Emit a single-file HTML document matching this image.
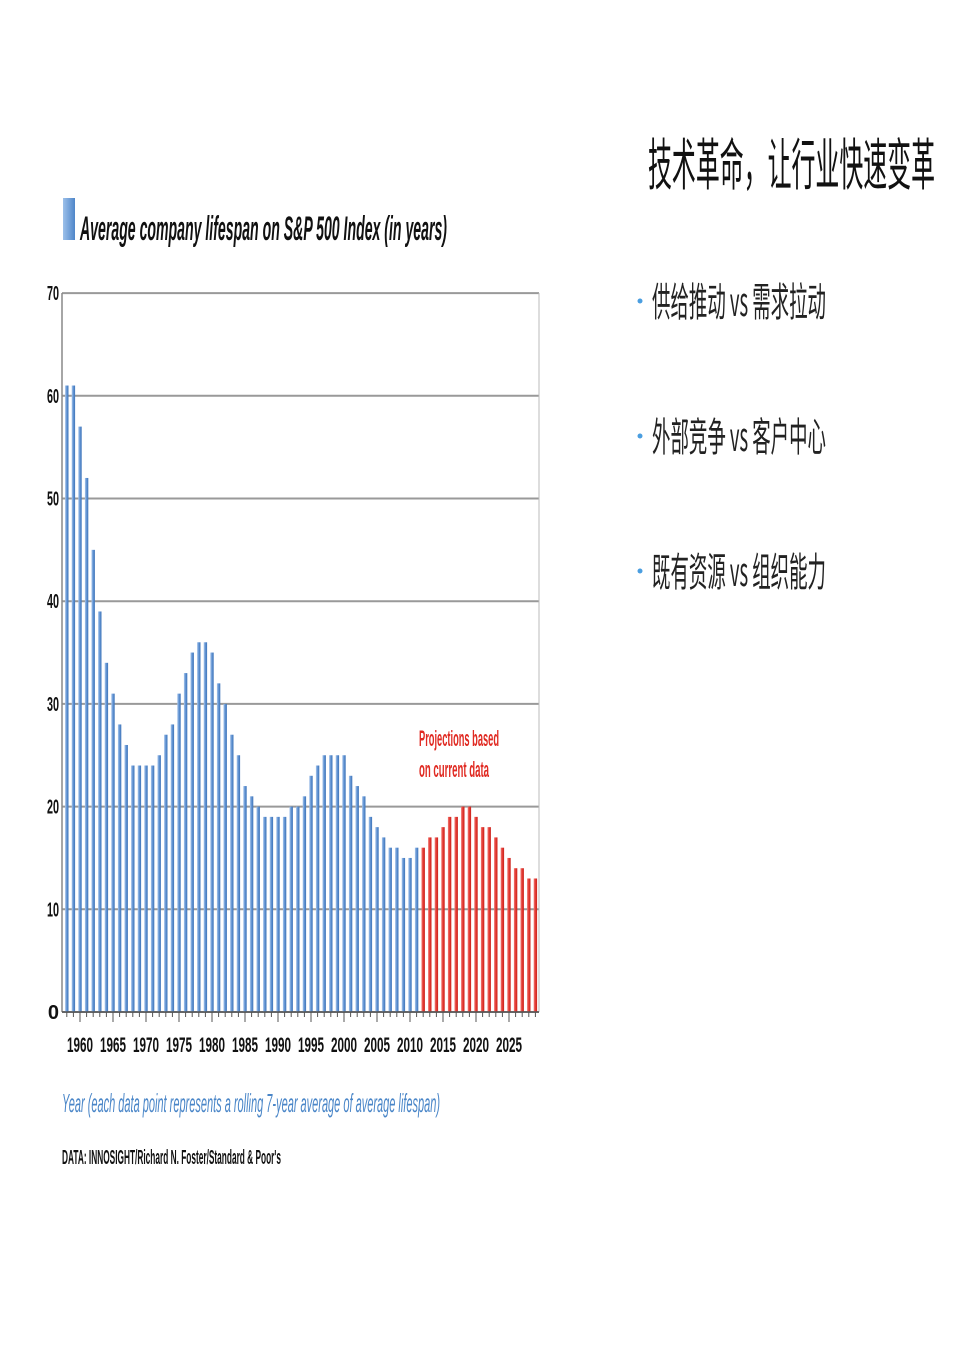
<!DOCTYPE html>
<html><head><meta charset="utf-8">
<style>
body{margin:0;background:#fff;}
svg{display:block;}
</style></head>
<body>
<svg id="s" width="960" height="1357" xmlns="http://www.w3.org/2000/svg" font-family="Liberation Sans, sans-serif">
<rect width="960" height="1357" fill="#fff"/>
<defs>
<linearGradient id="ic" x1="0" x2="1"><stop offset="0" stop-color="#9cc0ea"/><stop offset="1" stop-color="#4f86c9"/></linearGradient>
<linearGradient id="bb" x1="0" x2="1"><stop offset="0" stop-color="#a9c6ec"/><stop offset="0.5" stop-color="#5f92d2"/><stop offset="1" stop-color="#3f74b8"/></linearGradient>
<linearGradient id="rb" x1="0" x2="1"><stop offset="0" stop-color="#f07a75"/><stop offset="0.5" stop-color="#e43a33"/><stop offset="1" stop-color="#c9211b"/></linearGradient>
</defs>
<rect x="63" y="198" width="12" height="42" fill="url(#ic)"/>
<text x="80" y="240" font-size="34" font-style="italic" font-weight="bold" textLength="367" lengthAdjust="spacingAndGlyphs" fill="#111">Average company lifespan on S&amp;P 500 Index (in years)</text>
<g id="grid" stroke="#999" stroke-width="2"></g>
<line x1="62" y1="293" x2="62" y2="1012" stroke="#888" stroke-width="1.5"/>
<line x1="539" y1="293" x2="539" y2="1012" stroke="#bbb" stroke-width="1"/>
<g id="bars"></g>
<g id="yl" font-size="20" font-weight="bold" fill="#111"></g>
<g id="xl" font-size="21" font-weight="bold" fill="#111"></g>
<text x="419" y="746" font-size="22" font-weight="bold" fill="#e02a22" textLength="80" lengthAdjust="spacingAndGlyphs">Projections based</text>
<text x="419" y="777" font-size="22" font-weight="bold" fill="#e02a22" textLength="70" lengthAdjust="spacingAndGlyphs">on current data</text>
<text x="62" y="1112" font-size="26" font-style="italic" fill="#4a86c8" textLength="378" lengthAdjust="spacingAndGlyphs">Year (each data point represents a rolling 7-year average of average lifespan)</text>
<text x="62" y="1164" font-size="20" font-weight="bold" fill="#111" textLength="219" lengthAdjust="spacingAndGlyphs">DATA: INNOSIGHT/Richard N. Foster/Standard &amp; Poor's</text>
<text x="648" y="185" font-size="56" fill="#111" font-family="Noto Sans CJK SC, sans-serif" textLength="287" lengthAdjust="spacingAndGlyphs">技术革命，让行业快速变革</text>
<g font-size="40" fill="#222" font-family="Noto Sans CJK SC, sans-serif">
<circle cx="640" cy="301" r="2.5" fill="#4a9ee0"/>
<text x="652" y="316" textLength="174" lengthAdjust="spacingAndGlyphs">供给推动 vs 需求拉动</text>
<circle cx="640" cy="436" r="2.5" fill="#4a9ee0"/>
<text x="652" y="451" textLength="174" lengthAdjust="spacingAndGlyphs">外部竞争 vs 客户中心</text>
<circle cx="640" cy="571" r="2.5" fill="#4a9ee0"/>
<text x="652" y="586" textLength="174" lengthAdjust="spacingAndGlyphs">既有资源 vs 组织能力</text>
</g>
</svg>
<script>
var NS="http://www.w3.org/2000/svg";
function el(t,a,p){var e=document.createElementNS(NS,t);for(var k in a)e.setAttribute(k,a[k]);document.getElementById(p).appendChild(e);return e;}
var y0=1012,k=10.27;
for(var v=0;v<=70;v+=10){var y=y0-v*k;el('line',{x1:62,x2:539,y1:y,y2:y},'grid');var a={x:59,y:y+7,'text-anchor':'end'};if(v>0){a.textLength=12;a.lengthAdjust='spacingAndGlyphs';}var t=el('text',a,'yl');t.textContent=v;}
var d=[61,61,57,52,45,39,34,31,28,26,24,24,24,24,25,27,28,31,33,35,36,36,35,32,30,27,25,22,21,20,19,19,19,19,20,20,21,23,24,25,25,25,25,23,22,21,19,18,17,16,16,15,15,16,16,17,17,18,19,19,20,20,19,18,18,17,16,15,14,14,13,13];
for(var i=0;i<d.length;i++){var yr=1958+i,x=311+(yr-1995)*6.6;
el('rect',{x:x-1.7,y:y0-d[i]*k,width:3.4,height:d[i]*k,fill:yr<=2011?'url(#bb)':'url(#rb)'},'bars');
el('line',{x1:x,x2:x,y1:y0,y2:y0+(yr%5==0?10:5),stroke:'#555','stroke-width':1},'bars');}
el('line',{x1:62,x2:539,y1:y0,y2:y0,stroke:'#555','stroke-width':1.5},'bars');
for(var yr=1960;yr<=2025;yr+=5){var t=el('text',{x:311+(yr-1995)*6.6,y:1052,'text-anchor':'middle',textLength:26,lengthAdjust:'spacingAndGlyphs'},'xl');t.textContent=yr;}
</script>
</body></html>
